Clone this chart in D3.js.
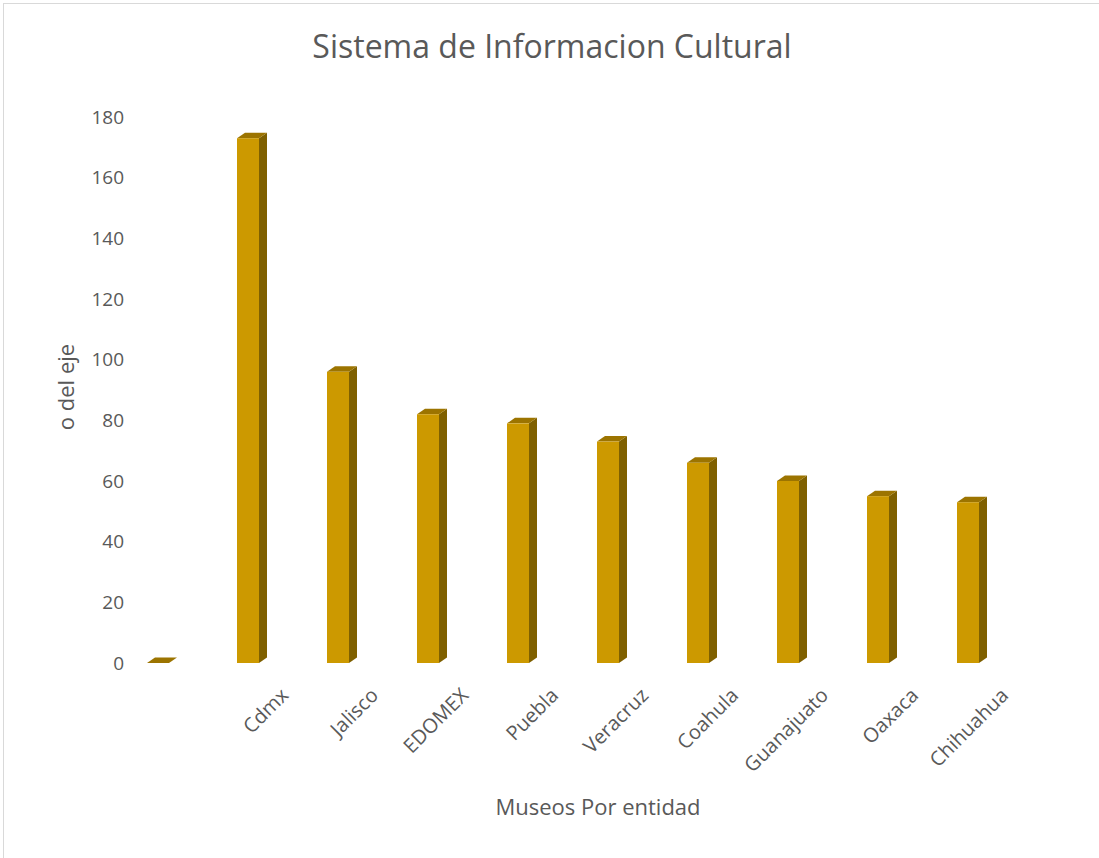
<!DOCTYPE html>
<meta charset="UTF-8">
<style>
    body { margin: 0; background: #fff; }
    text { font-family: "Open Sans", sans-serif; fill: #595959; }
</style>
<body>
<div id="chart"></div>
<script src="https://d3js.org/d3.v7.min.js"></script>
<script>

// data
var categories = ["", "Cdmx", "Jalisco", "EDOMEX", "Puebla", "Veracruz",
                  "Coahula", "Guanajuato", "Oaxaca", "Chihuahua"];
var museos = [0, 173, 96, 82, 79, 73, 66, 60, 55, 53];
var yTicks = [0, 20, 40, 60, 80, 100, 120, 140, 160, 180];

var width = 1099, height = 858;

// plot area (pixels)
var plotLeft = 113, plotRight = 1013, plotTop = 117, plotBottom = 663;
var barW = 22, depthX = 8, depthY = 5.5;

var front = "#cc9900", side = "#7f6000", topc = "#9c7400";

var svg = d3.select("#chart").append("svg")
    .attr("width", width)
    .attr("height", height);

// outer chart border
svg.append("rect")
    .attr("x", 3.5).attr("y", 3.5)
    .attr("width", width + 20).attr("height", height + 20)
    .attr("fill", "none")
    .attr("stroke", "#d9d9d9");

var x = d3.scaleBand().domain(categories).range([plotLeft, plotRight]);
var y = d3.scaleLinear().domain([0, 180]).range([plotBottom, plotTop]);

// y axis labels, no line and no ticks
var yAxis = svg.append("g")
    .attr("transform", "translate(124,0)")
    .call(d3.axisLeft(y).tickValues(yTicks).tickSize(0).tickPadding(0));
yAxis.select(".domain").remove();
yAxis.selectAll("text")
    .style("font-size", "19px")
    .attr("fill", "#595959");

// 3d bars: side, top, front
var bars = svg.append("g").selectAll("g")
    .data(categories)
    .join("g");

function x0(d) { return x(d) + x.bandwidth() / 2 - barW / 2; }

bars.append("path")
    .attr("fill", side)
    .attr("d", function(d, i) {
        var a = x0(d) + barW, yt = y(museos[i]), yb = y(0);
        return "M" + a + "," + yb + "L" + a + "," + yt +
               "L" + (a + depthX) + "," + (yt - depthY) +
               "L" + (a + depthX) + "," + (yb - depthY) + "Z";
    });

bars.append("path")
    .attr("fill", topc)
    .attr("d", function(d, i) {
        var a = x0(d), yt = y(museos[i]);
        return "M" + a + "," + yt + "L" + (a + barW) + "," + yt +
               "L" + (a + barW + depthX) + "," + (yt - depthY) +
               "L" + (a + depthX) + "," + (yt - depthY) + "Z";
    });

bars.append("rect")
    .attr("fill", front)
    .attr("x", function(d) { return x0(d); })
    .attr("y", function(d, i) { return y(museos[i]); })
    .attr("width", barW)
    .attr("height", function(d, i) { return y(0) - y(museos[i]); });

// category labels, rotated
svg.append("g").selectAll("text")
    .data(categories)
    .join("text")
    .attr("transform", function(d) {
        return "translate(" + (x(d) + x.bandwidth() / 2 + 31) + ",686) rotate(-45)";
    })
    .attr("text-anchor", "end")
    .attr("dy", "0.75em")
    .style("font-size", "20px")
    .text(function(d) { return d; });

// title
svg.append("text")
    .attr("x", 552).attr("y", 58)
    .attr("text-anchor", "middle")
    .style("font-size", "32px")
    .text("Sistema de Informacion Cultural");

// axis titles
svg.append("text")
    .attr("x", 598).attr("y", 815)
    .attr("text-anchor", "middle")
    .style("font-size", "22px")
    .text("Museos Por entidad");

svg.append("text")
    .attr("transform", "translate(74,387) rotate(-90)")
    .attr("text-anchor", "middle")
    .style("font-size", "22px")
    .text("o del eje");

</script>
</body>
